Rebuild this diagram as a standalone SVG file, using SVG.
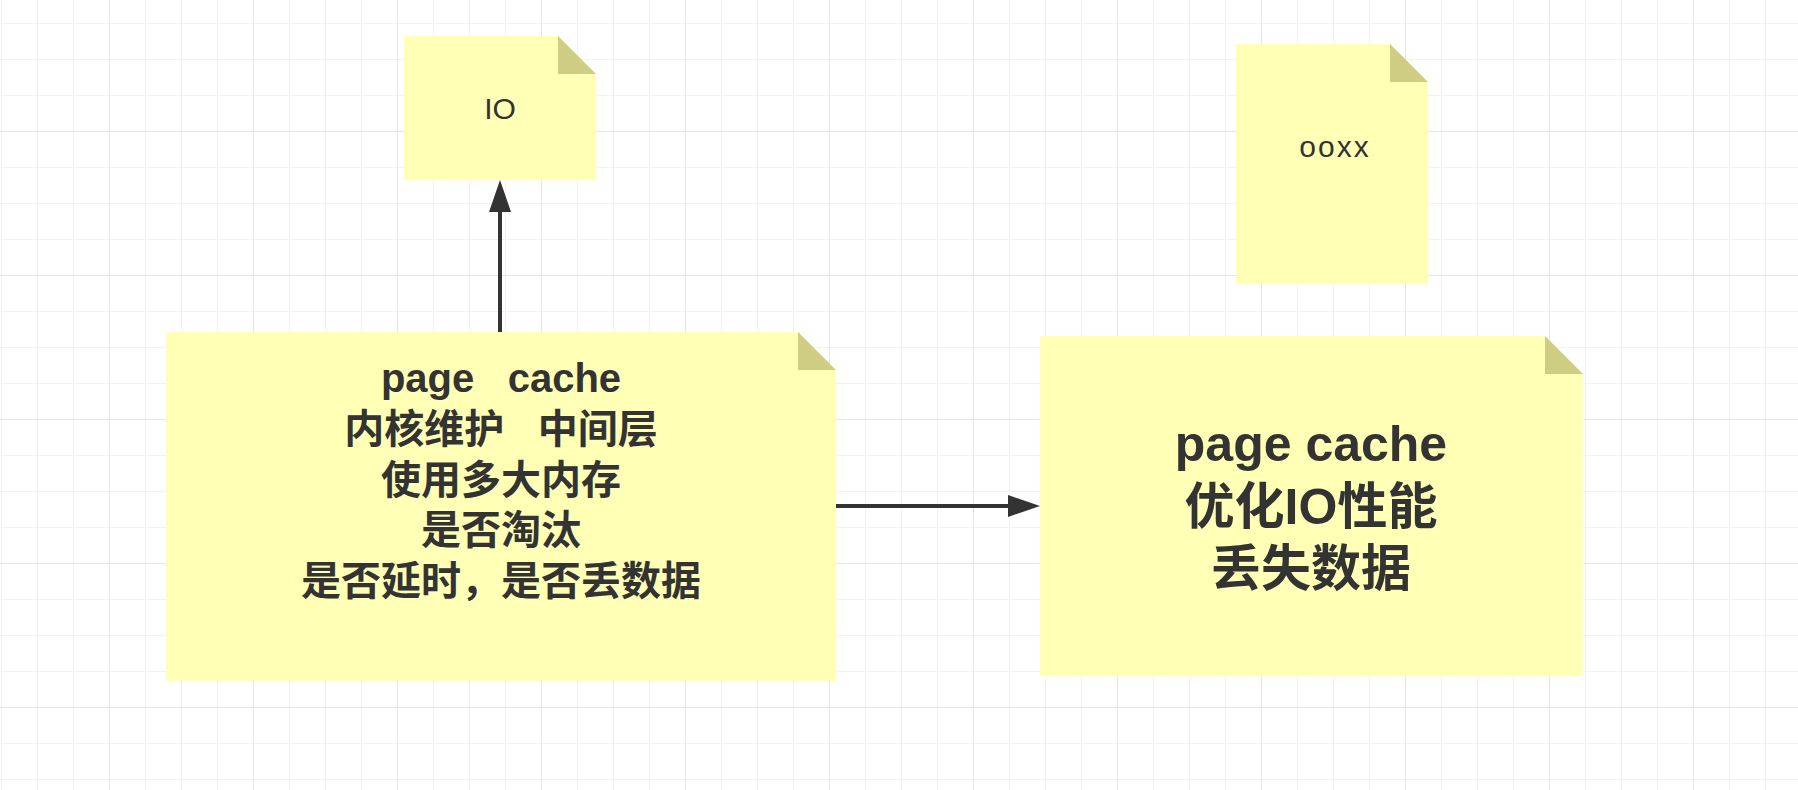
<svg xmlns="http://www.w3.org/2000/svg" width="1798" height="790" viewBox="0 0 1798 790">
  <style>
    .note { fill: #ffffb5; }
    .fold { fill: #cfcd84; }
    .txt { font-family: "Liberation Sans", "Noto Sans CJK SC", sans-serif; fill: #333333; text-anchor: middle; white-space: pre; }
    .small { font-size: 30px; font-weight: 400; }
    .mid { font-size: 40px; font-weight: 700; }
    .big { font-size: 50px; font-weight: 700; }
    .conn { stroke: #333333; stroke-width: 4; fill: none; }
  </style>
  <defs>
    <pattern id="gridMinor" x="1" y="23" width="36" height="36" patternUnits="userSpaceOnUse">
      <rect x="0" y="0" width="1" height="36" fill="#f2f2f2"/>
      <rect x="0" y="0" width="36" height="1" fill="#f2f2f2"/>
    </pattern>
    <pattern id="gridMajor" x="-35" y="-13" width="144" height="144" patternUnits="userSpaceOnUse">
      <rect x="0" y="0" width="1" height="144" fill="#e6e6e6"/>
      <rect x="0" y="0" width="144" height="1" fill="#e6e6e6"/>
    </pattern>
    <marker id="arrow" markerUnits="userSpaceOnUse" markerWidth="32" markerHeight="22" refX="2" refY="11" orient="auto">
      <path d="M0,0 L32,11 L0,22 Z" fill="#333333"/>
    </marker>
  </defs>

  <g id="background">
    <rect x="0" y="0" width="1798" height="790" fill="#ffffff"/>
    <rect x="0" y="0" width="1798" height="790" fill="url(#gridMinor)"/>
    <rect x="0" y="0" width="1798" height="790" fill="url(#gridMajor)"/>
  </g>

  <g id="connectors">
    <line class="conn" x1="500" y1="332" x2="500" y2="210" marker-end="url(#arrow)"/>
    <line class="conn" x1="836" y1="506" x2="1010" y2="506" marker-end="url(#arrow)"/>
  </g>

  <g id="node-io">
    <path class="note" d="M404,36 H558 L596,74 V180 H404 Z"/>
    <path class="fold" d="M558,36 V74 H596 Z"/>
    <text class="txt small" x="500" y="119">IO</text>
  </g>

  <g id="node-ooxx">
    <path class="note" d="M1236,44 H1390 L1428,82 V284 H1236 Z"/>
    <path class="fold" d="M1390,44 V82 H1428 Z"/>
    <text class="txt small" x="1335" y="157" style="letter-spacing:2px">ooxx</text>
  </g>

  <g id="node-pagecache-1">
    <path class="note" d="M166,332 H798 L836,370 V681 H166 Z"/>
    <path class="fold" d="M798,332 V370 H836 Z"/>
    <text class="txt mid" x="501" y="392" xml:space="preserve">page   cache</text>
    <text class="txt mid" x="501" y="443" xml:space="preserve">内核维护   中间层</text>
    <text class="txt mid" x="501" y="494">使用多大内存</text>
    <text class="txt mid" x="501" y="544">是否淘汰</text>
    <text class="txt mid" x="501" y="595">是否延时，是否丢数据</text>
  </g>

  <g id="node-pagecache-2">
    <path class="note" d="M1040,336 H1545 L1583,374 V676 H1040 Z"/>
    <path class="fold" d="M1545,336 V374 H1583 Z"/>
    <text class="txt big" x="1311" y="461">page cache</text>
    <text class="txt big" x="1311" y="524">优化IO性能</text>
    <text class="txt big" x="1311" y="586">丢失数据</text>
  </g>
</svg>
